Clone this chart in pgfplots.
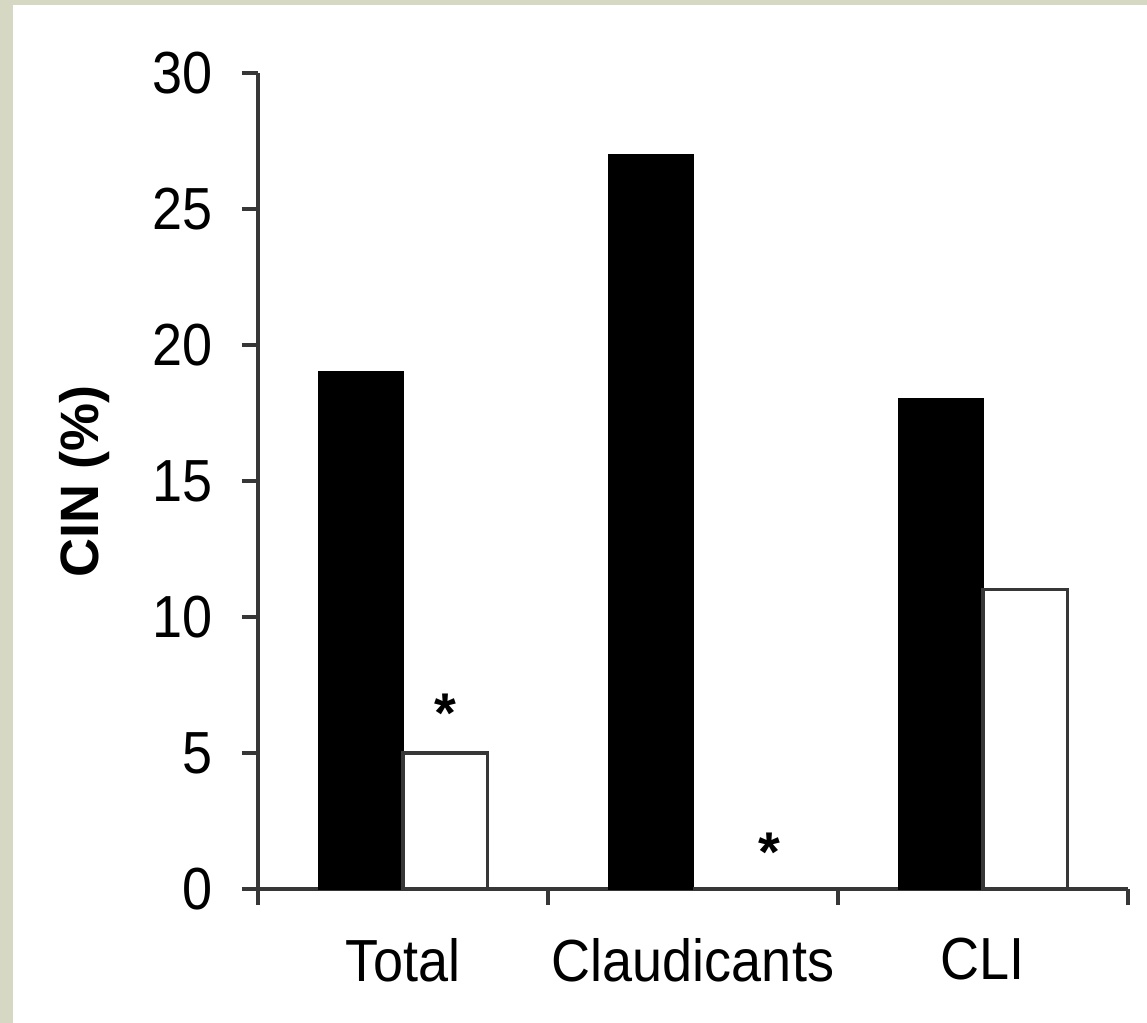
\documentclass[border=0pt]{standalone}
\usepackage{pgfplots}
\pgfplotsset{compat=1.18}
\usepackage{fontspec}
\setmainfont{Liberation Sans}
\usepackage{graphicx}
\definecolor{bgc}{RGB}{214,216,196}
\definecolor{axc}{RGB}{55,55,55}
\newcommand{\vs}[1]{\scalebox{1}[1.1]{#1}}
\begin{document}
\begin{tikzpicture}
\fill[bgc] (0,0) rectangle (573.5pt,-511.5pt);
\fill[white] (6.5pt,-2.5pt) rectangle (573.5pt,-511.5pt);
\useasboundingbox (0,0) rectangle (573.5pt,-511.5pt);
\begin{axis}[
  at={(129pt,-444.5pt)}, anchor=south west,
  scale only axis, width=435pt, height=408pt,
  xmin=-0.5, xmax=2.5, ymin=0, ymax=30,
  axis x line*=bottom, axis y line*=left,
  axis line style={axc, line width=1.6pt},
  ytick={0,5,10,15,20,25,30},
  yticklabel={\vs{\pgfmathprintnumber{\tick}}},
  xtick={-0.5,0.5,1.5,2.5}, xticklabels={},
  extra x ticks={0,1,2},
  extra x tick labels={\vs{Total},\vs{Claudicants},\vs{CLI}},
  extra x tick style={tick style={draw=none}, xticklabel style={yshift=-13pt}},
  tick align=outside, major tick length=8pt,
  tick style={axc, line width=1.6pt},
  ticklabel style={font=\fontsize{27}{30}\selectfont},
  yticklabel style={xshift=-11pt},
  /pgf/number format/assume math mode=true,
  ylabel={\bfseries\fontsize{27}{30}\selectfont CIN (\%)},
  ylabel style={at={(axis description cs:-0.17,0.5)}, anchor=south, inner sep=0pt},
  clip=false,
]
\addplot[ybar, bar width=0.29, bar shift=-0.145, fill=black, draw=black, line width=1pt]
  coordinates {(0,19) (1,27) (2,18)};
\addplot[ybar, bar width=0.29, bar shift=0.145, fill=white, draw=axc, line width=1.6pt]
  coordinates {(0,5) (1,0) (2,11)};
\node[anchor=north, inner sep=0pt, font=\bfseries\fontsize{28}{30}\selectfont] at (axis cs:0.145,7.2) {*};
\node[anchor=north, inner sep=0pt, font=\bfseries\fontsize{28}{30}\selectfont] at (axis cs:1.262,2.06) {*};
\end{axis}
\end{tikzpicture}
\end{document}
